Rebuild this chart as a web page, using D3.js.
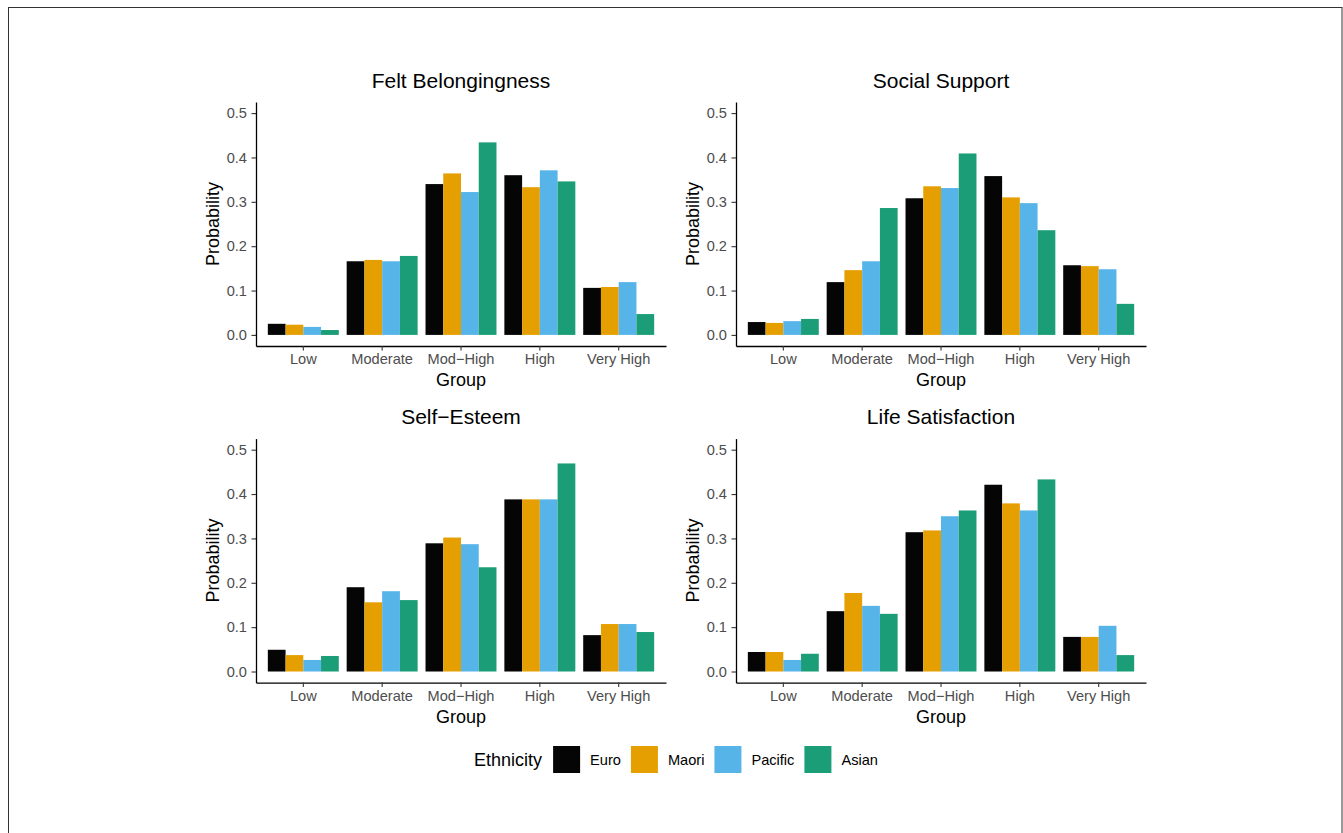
<!DOCTYPE html>
<html>
<head>
<meta charset="utf-8">
<script src="https://cdn.jsdelivr.net/npm/d3@7"></script>
<style>
  html, body { margin: 0; padding: 0; background: #fff; }
  svg { display: block; font-family: "Liberation Sans", Arial, Helvetica, sans-serif; }
</style>
</head>
<body>
<svg id="chart" width="1343" height="833"></svg>
<script>
// Wellbeing outcome groups and ethnicities
const groups = ["Low", "Moderate", "Mod\u2212High", "High", "Very High"];
const ethnicities = ["Euro", "Maori", "Pacific", "Asian"];
const colours = ["#050505", "#E69F00", "#56B4E9", "#1B9E77"];
const yTicks = [0, 0.1, 0.2, 0.3, 0.4, 0.5];
const panelTitles = ["Felt Belongingness", "Social Support", "Self\u2212Esteem", "Life Satisfaction"];

// Probability of each group, one row per ethnicity (Euro, Maori, Pacific, Asian)
const feltBelongingness = [
  [0.025, 0.166, 0.340, 0.360, 0.106],
  [0.023, 0.169, 0.364, 0.333, 0.108],
  [0.018, 0.166, 0.322, 0.371, 0.119],
  [0.011, 0.178, 0.434, 0.346, 0.047]
];
const socialSupport = [
  [0.029, 0.119, 0.308, 0.358, 0.157],
  [0.027, 0.146, 0.335, 0.310, 0.155],
  [0.031, 0.166, 0.331, 0.297, 0.148],
  [0.036, 0.286, 0.409, 0.236, 0.070]
];
const selfEsteem = [
  [0.049, 0.190, 0.289, 0.388, 0.082],
  [0.037, 0.156, 0.302, 0.388, 0.107],
  [0.026, 0.181, 0.287, 0.388, 0.107],
  [0.035, 0.161, 0.235, 0.469, 0.089]
];
const lifeSatisfaction = [
  [0.044, 0.136, 0.314, 0.421, 0.078],
  [0.044, 0.177, 0.318, 0.379, 0.078],
  [0.026, 0.148, 0.350, 0.363, 0.103],
  [0.040, 0.130, 0.363, 0.433, 0.037]
];
const panelData = [feltBelongingness, socialSupport, selfEsteem, lifeSatisfaction];

const svg = d3.select("#chart");

// outer frame
svg.append("rect")
  .attr("x", 8.5).attr("y", 7.5)
  .attr("width", 1333.5).attr("height", 900)
  .attr("fill", "none").attr("stroke", "#333").attr("stroke-width", 1);

const panelW = 410, panelH = 244;
const panelOrigins = [[256, 102], [736, 102], [256, 438.6], [736, 438.6]];

const colour = d3.scaleOrdinal().domain(ethnicities).range(colours);

panelData.forEach((rows, p) => {
  const [px, py] = panelOrigins[p];
  const g = svg.append("g").attr("transform", `translate(${px},${py})`);

  const x = d3.scaleBand().domain(groups).range([0, panelW])
    .paddingInner(0.1).paddingOuter(0.15);
  const xi = d3.scaleBand().domain(ethnicities).range([0, x.bandwidth()]).padding(0);
  const y = d3.scaleLinear().domain([-0.025, 0.525]).range([panelH, 0]);

  const records = [];
  rows.forEach((vals, e) => vals.forEach((v, gi) =>
    records.push({ group: groups[gi], eth: ethnicities[e], value: v })));

  g.selectAll("rect.bar").data(records).join("rect")
    .attr("class", "bar")
    .attr("x", d => x(d.group) + xi(d.eth))
    .attr("width", xi.bandwidth())
    .attr("y", d => y(d.value))
    .attr("height", d => y(0) - y(d.value))
    .attr("fill", d => colour(d.eth));

  // y axis
  const ya = g.append("g").call(d3.axisLeft(y).tickValues(yTicks)
    .tickFormat(d3.format(".1f")).tickSize(4.5).tickSizeOuter(0).tickPadding(4.5));
  // x axis
  const xa = g.append("g").attr("transform", `translate(0,${panelH})`)
    .call(d3.axisBottom(x).tickSize(4.5).tickSizeOuter(0).tickPadding(3.5));

  [ya, xa].forEach(a => {
    a.select(".domain").attr("stroke", "#000").attr("stroke-width", 1.3);
    a.selectAll(".tick line").attr("stroke", "#333").attr("stroke-width", 1.1);
    a.selectAll(".tick text").attr("fill", "#4D4D4D")
      .style("font-size", "14.6px").style("font-family", "Liberation Sans, Arial, sans-serif");
  });

  // panel title
  g.append("text").attr("x", panelW / 2).attr("y", -14.5)
    .attr("text-anchor", "middle").attr("font-size", 21).attr("fill", "#000")
    .text(panelTitles[p]);
  // axis titles
  g.append("text").attr("x", panelW / 2).attr("y", panelH + 40)
    .attr("text-anchor", "middle").attr("font-size", 18).attr("fill", "#000")
    .text("Group");
  g.append("text")
    .attr("transform", `translate(-37,${(y(0.5) + y(0)) / 2}) rotate(-90)`)
    .attr("text-anchor", "middle").attr("font-size", 18).attr("fill", "#000")
    .text("Probability");
});

// legend
const legend = svg.append("g");
const keySize = 27, legendCy = 759.5;
const lt = legend.append("text").attr("x", 0).attr("y", legendCy).attr("dy", "0.35em")
  .attr("font-size", 18).attr("fill", "#000").text("Ethnicity");
let cx = lt.node().getComputedTextLength() + 11;
ethnicities.forEach((e, i) => {
  legend.append("rect").attr("x", cx).attr("y", legendCy - keySize / 2)
    .attr("width", keySize).attr("height", keySize).attr("fill", colour(e));
  const t = legend.append("text").attr("x", cx + keySize + 10).attr("y", legendCy)
    .attr("dy", "0.35em").attr("font-size", 14.6).attr("fill", "#000").text(e);
  cx = cx + keySize + 10 + t.node().getComputedTextLength() + (i < ethnicities.length - 1 ? 10 : 0);
});
legend.attr("transform", `translate(${676 - cx / 2},0)`);
</script>
</body>
</html>
